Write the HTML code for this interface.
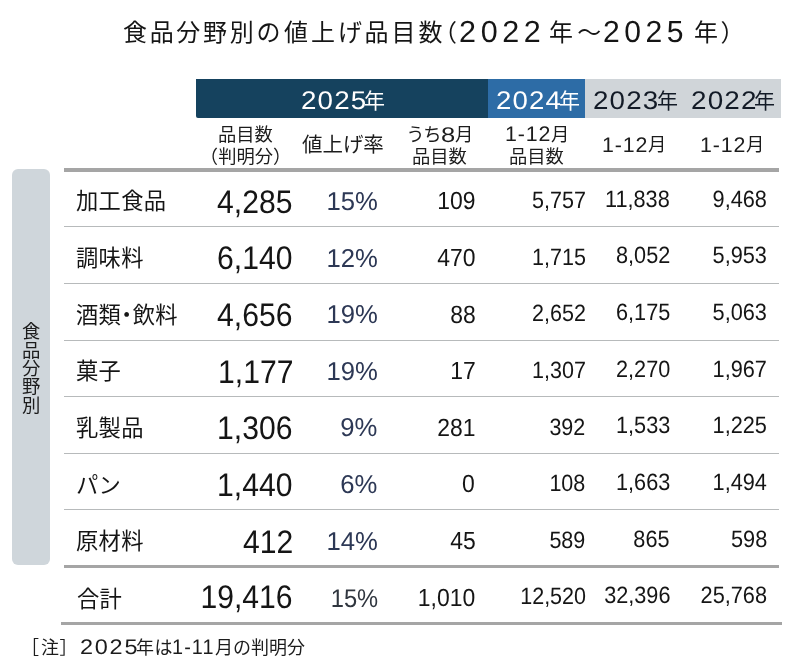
<!DOCTYPE html>
<html lang="ja">
<head>
<meta charset="utf-8">
<title>食品分野別の値上げ品目数（2022年～2025年）</title>
<style>
html,body{margin:0;padding:0;background:#fff;}
body{width:810px;height:662px;position:relative;overflow:hidden;font-family:"Liberation Sans","Noto Sans CJK JP",sans-serif;color:#111;}
.k{position:absolute;display:block;overflow:visible;}
.k text{font-family:"Liberation Sans","Noto Sans CJK JP",sans-serif;font-size:2048px;stroke:none;}
.t{position:absolute;white-space:nowrap;display:block;text-rendering:geometricPrecision;}
.page{position:absolute;left:0;top:0;width:810px;height:662px;will-change:transform;}
h1,p{margin:0;font-weight:normal;font-size:inherit;}
.box{position:absolute;}

.navy{background:#15425e;}
.blue{background:#2d6ca6;}
.grey{background:#d0d5d9;}
.side{background:#cfd6db;border-radius:6px;}
.thick{background:#a5a5a5;}
.thin{background:#b7babb;}

</style>
</head>
<body>
<main class="page">
<!-- title -->
<h1>
<svg class="k" style="left:123.30px;top:19.60px" width="157.40" height="24.00" viewBox="0 0 13431 2048" fill="#151515"><text x="0 2277 4553 6830 9107 11383" y="1802">食品分野別の</text></svg>
<svg class="k" style="left:284.00px;top:19.60px" width="158.52" height="24.00" viewBox="0 0 13527 2048" fill="#151515"><text x="0 2300 4599 6879 9179 11479" y="1802">値上げ品目数</text></svg>
<svg class="k" style="left:445.40px;top:19.60px" width="12.00" height="24.00" viewBox="0 0 1024 2048" fill="#151515"><text x="-1024" y="1802">（</text></svg>
<span class="t" style="top:17px;font-size:30.52px;line-height:30.52px;color:#151515;letter-spacing:4.60px;left:459.07px;">2022</span>
<svg class="k" style="left:549.30px;top:19.60px" width="52.30" height="24.00" viewBox="0 0 4463 2048" fill="#151515"><text x="0 2415" y="1802">年～</text></svg>
<span class="t" style="top:17px;font-size:30.52px;line-height:30.52px;color:#151515;letter-spacing:4.60px;left:602.89px;transform:scaleX(0.986);transform-origin:left top;">2025</span>
<svg class="k" style="left:693.60px;top:19.60px" width="38.60" height="24.00" viewBox="0 0 3294 2048" fill="#151515"><text x="0 2270" y="1802">年）</text></svg>
</h1>
<!-- column header: year bands -->
<div class="thead">
<div class="box navy" style="left:196.00px;top:79.10px;width:292.20px;height:38.50px;border-radius:0 0 0 2px;"></div>
<div class="box blue" style="left:488.00px;top:79.10px;width:97.10px;height:38.50px;"></div>
<div class="box grey" style="left:584.90px;top:79.10px;width:195.70px;height:38.50px;"></div>
<span class="t" style="top:89px;font-size:25.58px;line-height:25.58px;color:#fff;letter-spacing:1.05px;left:300.60px;transform:scaleX(1.085);transform-origin:left top;">2025</span>
<svg class="k" style="left:364.10px;top:89.95px" width="21.00" height="21.00" viewBox="0 0 2048 2048" fill="#fff"><text x="0" y="1802">年</text></svg>
<span class="t" style="top:89px;font-size:25.58px;line-height:25.58px;color:#fff;letter-spacing:1.05px;left:495.61px;transform:scaleX(1.079);transform-origin:left top;">2024</span>
<svg class="k" style="left:559.10px;top:89.95px" width="21.00" height="21.00" viewBox="0 0 2048 2048" fill="#fff"><text x="0" y="1802">年</text></svg>
<span class="t" style="top:89px;font-size:25.58px;line-height:25.58px;color:#121a26;letter-spacing:1.05px;left:593.00px;transform:scaleX(1.086);transform-origin:left top;">2023</span>
<svg class="k" style="left:656.50px;top:89.95px" width="21.00" height="21.00" viewBox="0 0 2048 2048" fill="#121a26"><text x="0" y="1802">年</text></svg>
<span class="t" style="top:89px;font-size:25.58px;line-height:25.58px;color:#121a26;letter-spacing:1.05px;left:690.60px;transform:scaleX(1.089);transform-origin:left top;">2022</span>
<svg class="k" style="left:754.10px;top:89.95px" width="21.00" height="21.00" viewBox="0 0 2048 2048" fill="#121a26"><text x="0" y="1802">年</text></svg>
<!-- column sub-headers -->
<svg class="k" style="left:217.90px;top:124.80px" width="54.90" height="18.30" viewBox="0 0 6144 2048" fill="#1c1c1c"><text x="0 2048 4096" y="1802">品目数</text></svg>
<svg class="k" style="left:208.80px;top:147.00px" width="73.20" height="18.30" viewBox="0 0 8192 2048" fill="#1c1c1c"><text x="-1024 1024 3072 5120 7168" y="1802">（判明分）</text></svg>
<svg class="k" style="left:301.90px;top:134.30px" width="81.80" height="20.50" viewBox="0 0 8172 2048" fill="#1c1c1c"><text x="0 2048 4096 6124" y="1802">値上げ率</text></svg>
<svg class="k" style="left:406.60px;top:124.80px" width="34.22" height="18.30" viewBox="0 0 3830 2048" fill="#1c1c1c"><text x="-92 1823" y="1802">うち</text></svg>
<span class="t" style="top:125px;font-size:21.22px;line-height:21.22px;color:#1c1c1c;left:440.79px;transform:scaleX(1.205);transform-origin:left top;">8</span>
<svg class="k" style="left:455.00px;top:124.80px" width="18.30" height="18.30" viewBox="0 0 2048 2048" fill="#1c1c1c"><text x="0" y="1802">月</text></svg>
<svg class="k" style="left:412.00px;top:147.00px" width="54.90" height="18.30" viewBox="0 0 6144 2048" fill="#1c1c1c"><text x="0 2048 4096" y="1802">品目数</text></svg>
<span class="t" style="top:124px;font-size:21.22px;line-height:21.22px;color:#1c1c1c;letter-spacing:0.90px;left:504.87px;transform:scaleX(1.007);transform-origin:left top;">1-12</span>
<svg class="k" style="left:551.33px;top:124.80px" width="18.30" height="18.30" viewBox="0 0 2048 2048" fill="#1c1c1c"><text x="0" y="1802">月</text></svg>
<svg class="k" style="left:509.30px;top:147.00px" width="54.90" height="18.30" viewBox="0 0 6144 2048" fill="#1c1c1c"><text x="0 2048 4096" y="1802">品目数</text></svg>
<span class="t" style="top:135px;font-size:21.22px;line-height:21.22px;color:#1c1c1c;letter-spacing:0.90px;left:601.97px;transform:scaleX(1.007);transform-origin:left top;">1-12</span>
<svg class="k" style="left:648.43px;top:135.40px" width="18.30" height="18.30" viewBox="0 0 2048 2048" fill="#1c1c1c"><text x="0" y="1802">月</text></svg>
<span class="t" style="top:135px;font-size:21.22px;line-height:21.22px;color:#1c1c1c;letter-spacing:0.90px;left:699.97px;transform:scaleX(1.007);transform-origin:left top;">1-12</span>
<svg class="k" style="left:746.43px;top:135.40px" width="18.30" height="18.30" viewBox="0 0 2048 2048" fill="#1c1c1c"><text x="0" y="1802">月</text></svg>
</div>
<!-- row-group label -->
<div class="side-label">
<div class="box side" style="left:12.40px;top:168.90px;width:37.30px;height:396.10px;"></div>
<svg class="k" style="left:21.80px;top:321.80px" width="18.40" height="92.00" viewBox="0 0 2048 10240" fill="#1c1c1c"><text x="0 0 0 0 0" y="1802 3850 5898 7946 9994">食品分野別</text></svg>
</div>
<!-- horizontal rules -->
<div class="rules">
<div class="box thick" style="left:64.00px;top:168.00px;width:715.00px;height:4.00px;"></div>
<div class="box thin" style="left:64.00px;top:226.00px;width:715.00px;height:1.00px;"></div>
<div class="box thin" style="left:64.00px;top:283.00px;width:715.00px;height:1.00px;"></div>
<div class="box thin" style="left:64.00px;top:340.00px;width:715.00px;height:1.00px;"></div>
<div class="box thin" style="left:64.00px;top:396.00px;width:715.00px;height:1.00px;"></div>
<div class="box thin" style="left:64.00px;top:453.00px;width:715.00px;height:1.00px;"></div>
<div class="box thin" style="left:64.00px;top:509.00px;width:715.00px;height:1.00px;"></div>
<div class="box thick" style="left:64.00px;top:565.00px;width:715.00px;height:3.00px;"></div>
<div class="box thick" style="left:61.00px;top:622.00px;width:720.50px;height:3.00px;"></div>
</div>
<!-- data rows -->
<div class="row">
<svg class="k" style="left:76.20px;top:189.40px" width="90.10" height="22.30" viewBox="0 0 8275 2048" fill="#151515"><text x="0 2076 4151 6227" y="1802">加工食品</text></svg>
<span class="t" style="top:186px;font-size:32.56px;line-height:32.56px;color:#151515;right:517.14px;transform:scaleX(0.925);transform-origin:right top;">4,285</span>
<span class="t" style="top:190px;font-size:25.87px;line-height:25.87px;color:#2d3855;right:432.69px;transform:scaleX(0.992);transform-origin:right top;">15%</span>
<span class="t" style="top:189px;font-size:24.86px;line-height:24.86px;color:#151515;right:334.51px;transform:scaleX(0.922);transform-origin:right top;">109</span>
<span class="t" style="top:189px;font-size:23.55px;line-height:23.55px;color:#151515;right:224.22px;transform:scaleX(0.914);transform-origin:right top;">5,757</span>
<span class="t" style="top:189px;font-size:23.69px;line-height:23.69px;color:#151515;right:139.96px;transform:scaleX(0.915);transform-origin:right top;">11,838</span>
<span class="t" style="top:188px;font-size:23.55px;line-height:23.55px;color:#151515;right:42.86px;transform:scaleX(0.923);transform-origin:right top;">9,468</span>
</div>
<div class="row">
<svg class="k" style="left:76.20px;top:246.03px" width="67.50" height="22.30" viewBox="0 0 6199 2048" fill="#151515"><text x="0 2076 4151" y="1802">調味料</text></svg>
<span class="t" style="top:242px;font-size:32.56px;line-height:32.56px;color:#151515;right:517.22px;transform:scaleX(0.925);transform-origin:right top;">6,140</span>
<span class="t" style="top:247px;font-size:25.87px;line-height:25.87px;color:#2d3855;right:432.69px;transform:scaleX(0.992);transform-origin:right top;">12%</span>
<span class="t" style="top:246px;font-size:24.86px;line-height:24.86px;color:#151515;right:334.70px;transform:scaleX(0.922);transform-origin:right top;">470</span>
<span class="t" style="top:246px;font-size:23.55px;line-height:23.55px;color:#151515;right:224.40px;transform:scaleX(0.914);transform-origin:right top;">1,715</span>
<span class="t" style="top:245px;font-size:23.69px;line-height:23.69px;color:#151515;right:139.81px;transform:scaleX(0.915);transform-origin:right top;">8,052</span>
<span class="t" style="top:244px;font-size:23.55px;line-height:23.55px;color:#151515;right:42.85px;transform:scaleX(0.923);transform-origin:right top;">5,953</span>
</div>
<div class="row">
<svg class="k" style="left:76.20px;top:302.66px" width="101.55" height="22.30" viewBox="0 0 9326 2048" fill="#151515"><text x="0 2076 3639 5203 7278" y="1802">酒類・飲料</text></svg>
<span class="t" style="top:299px;font-size:32.56px;line-height:32.56px;color:#151515;right:517.08px;transform:scaleX(0.925);transform-origin:right top;">4,656</span>
<span class="t" style="top:303px;font-size:25.87px;line-height:25.87px;color:#2d3855;right:432.69px;transform:scaleX(0.992);transform-origin:right top;">19%</span>
<span class="t" style="top:303px;font-size:24.86px;line-height:24.86px;color:#151515;right:334.60px;transform:scaleX(0.922);transform-origin:right top;">88</span>
<span class="t" style="top:302px;font-size:23.55px;line-height:23.55px;color:#151515;right:224.22px;transform:scaleX(0.914);transform-origin:right top;">2,652</span>
<span class="t" style="top:302px;font-size:23.69px;line-height:23.69px;color:#151515;right:139.99px;transform:scaleX(0.915);transform-origin:right top;">6,175</span>
<span class="t" style="top:301px;font-size:23.55px;line-height:23.55px;color:#151515;right:42.85px;transform:scaleX(0.923);transform-origin:right top;">5,063</span>
</div>
<div class="row">
<svg class="k" style="left:76.20px;top:359.29px" width="44.90" height="22.30" viewBox="0 0 4124 2048" fill="#151515"><text x="0 2076" y="1802">菓子</text></svg>
<span class="t" style="top:356px;font-size:32.56px;line-height:32.56px;color:#151515;right:516.89px;transform:scaleX(0.925);transform-origin:right top;">1,177</span>
<span class="t" style="top:360px;font-size:25.87px;line-height:25.87px;color:#2d3855;right:432.69px;transform:scaleX(0.992);transform-origin:right top;">19%</span>
<span class="t" style="top:359px;font-size:24.86px;line-height:24.86px;color:#151515;right:334.45px;transform:scaleX(0.922);transform-origin:right top;">17</span>
<span class="t" style="top:359px;font-size:23.55px;line-height:23.55px;color:#151515;right:224.22px;transform:scaleX(0.914);transform-origin:right top;">1,307</span>
<span class="t" style="top:359px;font-size:23.69px;line-height:23.69px;color:#151515;right:140.05px;transform:scaleX(0.915);transform-origin:right top;">2,270</span>
<span class="t" style="top:358px;font-size:23.55px;line-height:23.55px;color:#151515;right:42.71px;transform:scaleX(0.923);transform-origin:right top;">1,967</span>
</div>
<div class="row">
<svg class="k" style="left:76.20px;top:415.92px" width="67.50" height="22.30" viewBox="0 0 6199 2048" fill="#151515"><text x="0 2076 4151" y="1802">乳製品</text></svg>
<span class="t" style="top:412px;font-size:32.56px;line-height:32.56px;color:#151515;right:517.08px;transform:scaleX(0.925);transform-origin:right top;">1,306</span>
<span class="t" style="top:416px;font-size:25.87px;line-height:25.87px;color:#2d3855;right:432.69px;transform:scaleX(0.992);transform-origin:right top;">9%</span>
<span class="t" style="top:416px;font-size:24.86px;line-height:24.86px;color:#151515;right:334.48px;transform:scaleX(0.922);transform-origin:right top;">281</span>
<span class="t" style="top:416px;font-size:23.55px;line-height:23.55px;color:#151515;right:224.22px;transform:scaleX(0.914);transform-origin:right top;">392</span>
<span class="t" style="top:415px;font-size:23.69px;line-height:23.69px;color:#151515;right:139.95px;transform:scaleX(0.915);transform-origin:right top;">1,533</span>
<span class="t" style="top:414px;font-size:23.55px;line-height:23.55px;color:#151515;right:42.89px;transform:scaleX(0.923);transform-origin:right top;">1,225</span>
</div>
<div class="row">
<svg class="k" style="left:76.20px;top:472.55px" width="42.68" height="22.30" viewBox="0 0 3920 2048" fill="#151515"><text x="0 2056" y="1802">パン</text></svg>
<span class="t" style="top:469px;font-size:32.56px;line-height:32.56px;color:#151515;right:517.22px;transform:scaleX(0.925);transform-origin:right top;">1,440</span>
<span class="t" style="top:473px;font-size:25.87px;line-height:25.87px;color:#2d3855;right:432.69px;transform:scaleX(0.992);transform-origin:right top;">6%</span>
<span class="t" style="top:472px;font-size:24.86px;line-height:24.86px;color:#151515;right:334.70px;transform:scaleX(0.922);transform-origin:right top;">0</span>
<span class="t" style="top:472px;font-size:23.55px;line-height:23.55px;color:#151515;right:224.36px;transform:scaleX(0.914);transform-origin:right top;">108</span>
<span class="t" style="top:472px;font-size:23.69px;line-height:23.69px;color:#151515;right:139.95px;transform:scaleX(0.915);transform-origin:right top;">1,663</span>
<span class="t" style="top:471px;font-size:23.55px;line-height:23.55px;color:#151515;right:43.16px;transform:scaleX(0.923);transform-origin:right top;">1,494</span>
</div>
<div class="row">
<svg class="k" style="left:76.20px;top:529.18px" width="67.50" height="22.30" viewBox="0 0 6199 2048" fill="#151515"><text x="0 2076 4151" y="1802">原材料</text></svg>
<span class="t" style="top:526px;font-size:32.56px;line-height:32.56px;color:#151515;right:516.89px;transform:scaleX(0.925);transform-origin:right top;">412</span>
<span class="t" style="top:530px;font-size:25.87px;line-height:25.87px;color:#2d3855;right:432.69px;transform:scaleX(0.992);transform-origin:right top;">14%</span>
<span class="t" style="top:529px;font-size:24.86px;line-height:24.86px;color:#151515;right:334.64px;transform:scaleX(0.922);transform-origin:right top;">45</span>
<span class="t" style="top:529px;font-size:23.55px;line-height:23.55px;color:#151515;right:224.28px;transform:scaleX(0.914);transform-origin:right top;">589</span>
<span class="t" style="top:529px;font-size:23.69px;line-height:23.69px;color:#151515;right:139.99px;transform:scaleX(0.915);transform-origin:right top;">865</span>
<span class="t" style="top:528px;font-size:23.55px;line-height:23.55px;color:#151515;right:42.86px;transform:scaleX(0.923);transform-origin:right top;">598</span>
</div>
<div class="row total">
<svg class="k" style="left:76.50px;top:586.60px" width="44.90" height="22.30" viewBox="0 0 4124 2048" fill="#151515"><text x="0 2076" y="1802">合計</text></svg>
<span class="t" style="top:581px;font-size:32.56px;line-height:32.56px;color:#151515;right:517.08px;transform:scaleX(0.925);transform-origin:right top;">19,416</span>
<span class="t" style="top:587px;font-size:25.58px;line-height:25.58px;color:#30363f;right:431.85px;transform:scaleX(0.927);transform-origin:right top;">15%</span>
<span class="t" style="top:586px;font-size:24.86px;line-height:24.86px;color:#151515;right:334.70px;transform:scaleX(0.922);transform-origin:right top;">1,010</span>
<span class="t" style="top:585px;font-size:23.55px;line-height:23.55px;color:#151515;right:224.46px;transform:scaleX(0.914);transform-origin:right top;">12,520</span>
<span class="t" style="top:585px;font-size:23.69px;line-height:23.69px;color:#151515;right:139.95px;transform:scaleX(0.915);transform-origin:right top;">32,396</span>
<span class="t" style="top:584px;font-size:23.55px;line-height:23.55px;color:#151515;right:42.86px;transform:scaleX(0.923);transform-origin:right top;">25,768</span>
</div>
<!-- footnote -->
<p class="note">
<svg class="k" style="left:30.24px;top:637.70px" width="9.00" height="18.00" viewBox="0 0 1024 2048" fill="#1c1c1c"><text x="-1024" y="1802">［</text></svg>
<svg class="k" style="left:40.92px;top:637.70px" width="27.60" height="18.00" viewBox="0 0 3140 2048" fill="#1c1c1c"><text x="0 2116" y="1802">注］</text></svg>
<span class="t" style="top:637px;font-size:21.22px;line-height:21.22px;color:#1c1c1c;letter-spacing:1.60px;left:80.02px;transform:scaleX(1.105);transform-origin:left top;">2025</span>
<svg class="k" style="left:136.05px;top:637.70px" width="36.42" height="18.00" viewBox="0 0 4144 2048" fill="#1c1c1c"><text x="0 2116" y="1802">年は</text></svg>
<span class="t" style="top:637px;font-size:21.22px;line-height:21.22px;color:#1c1c1c;letter-spacing:1.20px;left:172.19px;transform:scaleX(0.933);transform-origin:left top;">1-11</span>
<svg class="k" style="left:214.85px;top:637.70px" width="90.00" height="18.00" viewBox="0 0 10240 2048" fill="#1c1c1c"><text x="0 2048 4096 6144 8192" y="1802">月の判明分</text></svg>
</p>
</main>
</body>
</html>
